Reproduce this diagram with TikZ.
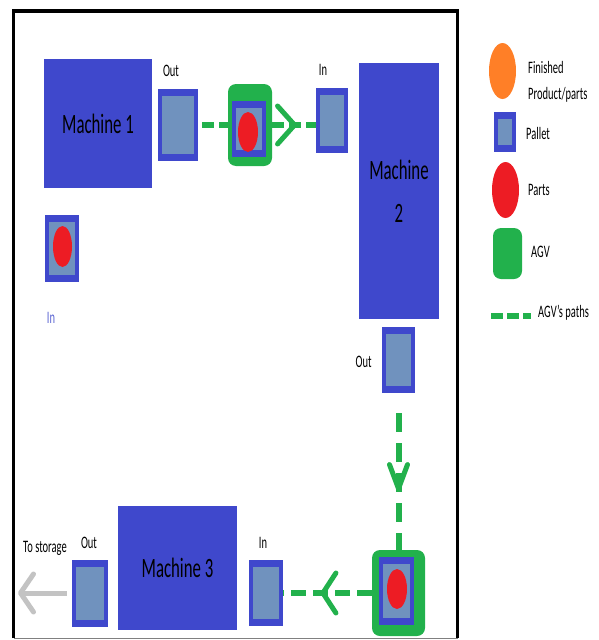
\documentclass[tikz,border=0pt]{standalone}
\usepackage{fontspec}
\setmainfont{Carlito}[FakeStretch=0.6]
\usetikzlibrary{arrows.meta, positioning, shapes.geometric, decorations.markings}
\definecolor{machblue}{RGB}{63,72,204}
\definecolor{palletgrey}{RGB}{112,146,190}
\definecolor{agvgreen}{RGB}{34,177,76}
\definecolor{partred}{RGB}{237,28,36}
\definecolor{prodorange}{RGB}{255,127,39}
\definecolor{storegrey}{RGB}{195,195,195}
\definecolor{inblue}{RGB}{90,100,210}
\begin{document}
\begin{tikzpicture}[
  x=1pt, y=-1pt, >=Stealth,
  machbox/.style={
    fill=machblue, inner sep=0pt, align=center,
    font=\fontsize{28}{43}\selectfont
  },
  pallet/.style={
    fill=machblue, inner sep=0pt,
    path picture={\fill[palletgrey]
      ([xshift=4pt,yshift=7pt]path picture bounding box.south west) rectangle
      ([xshift=-4pt,yshift=-7pt]path picture bounding box.north east);}
  },
  part/.style={ellipse, fill=partred, inner sep=0pt, minimum width=20pt, minimum height=40pt},
  product/.style={ellipse, fill=prodorange, inner sep=0pt},
  agv/.style={fill=agvgreen, rounded corners=8pt, inner sep=0pt},
  lbl/.style={font=\fontsize{17.5}{20}\selectfont, inner sep=0pt},
  legtext/.style={lbl, anchor=west, align=left, font=\fontsize{17.5}{26}\selectfont},
  agvpath/.style={agvgreen, line width=6pt, dash pattern=on 12pt off 5pt},
  chevron/.style n args={3}{
    postaction={decorate, decoration={markings,
      mark=at position #1 with {\arrow{Straight Barb[length=#2, width=#3, line width=5pt, round]}}}}
  },
  storeline/.style={storegrey, line width=5pt, -{Straight Barb[length=13pt, width=38pt, round]}},
]
\useasboundingbox (0,0) rectangle (598,640);
% --- Frame ---
\draw[line width=3.5pt] (13.5,638) -- (13.5,11) -- (457.5,11) -- (457.5,638);
\draw[gray, line width=1pt] (13.5,638) -- (457.5,638);
% --- Machine 1 ---
\node[machbox, minimum width=108pt, minimum height=129pt] (mach1) at (98,123.5) {Machine 1};
\node[pallet, minimum width=40pt, minimum height=72pt] (out1) at (178,125) {};
\node[lbl, above=12pt of out1.north, xshift=-7pt] (out1lbl) {Out};
\node[pallet, minimum width=34pt, minimum height=67pt] (in1) at (62,248.5) {};
\node[part, minimum width=19pt, minimum height=41pt] (part0) at (62.5,246.5) {};
\node[lbl, text=inblue] (in1lbl) at (51,318) {In};
% --- AGV 1 ---
\node[agv, minimum width=44pt, minimum height=82pt] (agv1) at (250,125) {};
\node[pallet, minimum width=34pt, minimum height=56pt] (agvpal1) at (249,129) {};
\node[part] (part1) at (248,132) {};
% --- Machine 2 ---
\node[machbox, minimum width=80pt, minimum height=256pt] (mach2) at (399,191) {Machine\\2};
\node[pallet, minimum width=32pt, minimum height=65pt] (in2) at (332,120.5) {};
\node[lbl] (in2lbl) at (323,70) {In};
\node[pallet, minimum width=33pt, minimum height=66pt] (out2) at (398.5,360) {};
\node[lbl, left=10pt of out2.west, yshift=-2pt] (out2lbl) {Out};
% --- AGV 2 ---
\node[agv, minimum width=53pt, minimum height=86pt] (agv2) at (398.5,593) {};
\node[pallet, minimum width=35pt, minimum height=68pt] (agvpal2) at (396.5,591) {};
\node[part] (part2) at (397,589) {};
% --- Machine 3 ---
\node[machbox, minimum width=119pt, minimum height=124pt] (mach3) at (177.5,568) {Machine 3};
\node[pallet, minimum width=34pt, minimum height=66pt] (in3) at (266,593) {};
\node[lbl] (in3lbl) at (263,543) {In};
\node[pallet, minimum width=36pt, minimum height=67pt] (out3) at (90,593) {};
\node[lbl] (out3lbl) at (89,543) {Out};
\node[lbl] (storelbl) at (45,548) {To storage};
\coordinate (storage) at (18,593);
% --- AGV paths ---
\draw[agvpath, shorten <=4pt] (out1.east) -- (agv1.west);
\draw[agvpath, chevron={0.57}{17pt}{38pt}] (agv1.east) -- (agv1.east -| in2.west);
\coordinate (down) at ([yshift=-20pt]out2.south);
\draw[agvpath, dash pattern=on 19pt off 11pt, chevron={0.57}{24pt}{18pt}] (down) -- (agv2.north);
\draw[agvpath, dash pattern=on 15pt off 7pt, chevron={0.58}{13pt}{40pt}] (agv2.west) -- (in3.east);
\draw[storeline, shorten <=5pt] (out3.west) -- (storage);
% --- Legend ---
\node[product, minimum width=27pt, minimum height=56pt] (legprod) at (502.5,71) {};
\node[legtext] (legprodlbl) at (528,82) {Finished\\Product/parts};
\node[pallet, minimum width=22pt, minimum height=40pt] (legpal) at (505,132) {};
\node[legtext] (legpallbl) at (526,133) {Pallet};
\node[part, minimum width=27pt, minimum height=56pt] (legpart) at (505.5,190) {};
\node[legtext] (legpartlbl) at (528,190) {Parts};
\node[agv, minimum width=29pt, minimum height=51pt] (legagv) at (507.5,253.5) {};
\node[legtext] (legagvlbl) at (531,252) {AGV};
\coordinate (legpathA) at (491,316);
\coordinate (legpathB) at (531,316);
\draw[agvpath, dash pattern=on 12pt off 4pt] (legpathA) -- (legpathB);
\node[legtext] (legpathlbl) at (538,313) {AGV's paths};
\end{tikzpicture}
\end{document}
